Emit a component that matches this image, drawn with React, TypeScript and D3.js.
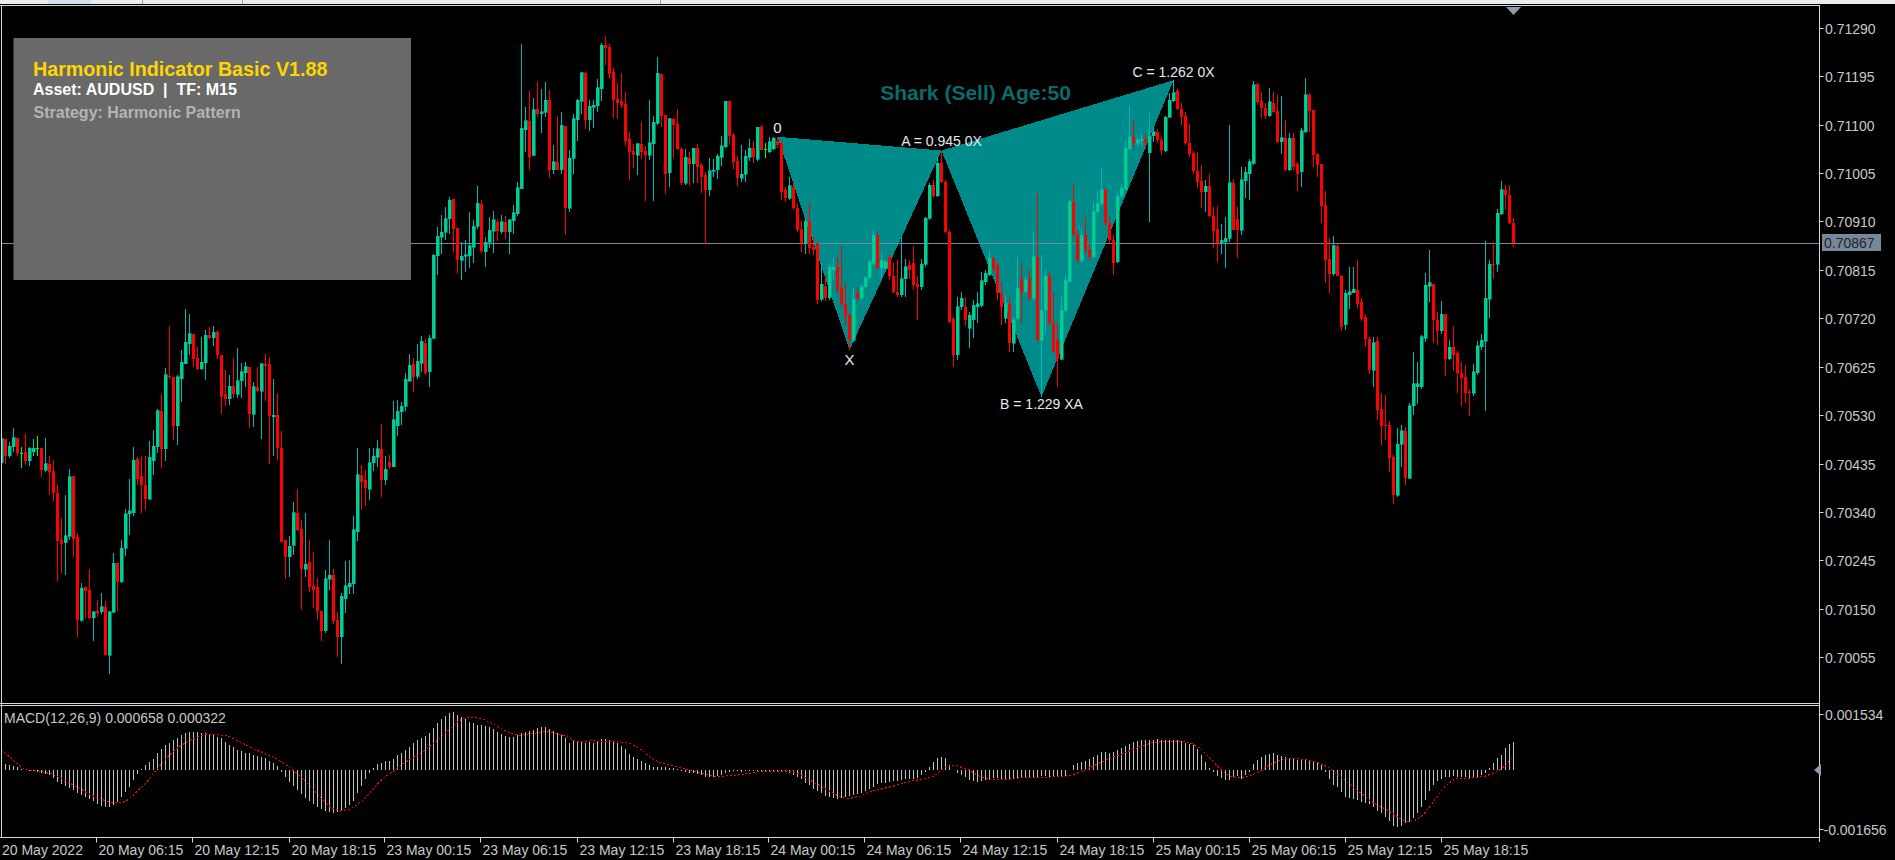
import React from "react";
import * as d3 from "d3";

const W = 1895;
const H = 860;
const FONT = "'Liberation Sans', Arial, sans-serif";

// [open, high, low, close] per M15 bar, AUDUSD, 20 May 00:15 .. 25 May
const ohlc: [number, number, number, number][] = [
[0.70437,0.70484,0.70437,0.70484],[0.70483,0.70483,0.70435,0.70449],[0.70450,0.70478,0.70445,0.70469],[0.70468,0.70505,0.70458,0.70486],[0.70486,0.70486,0.70449,0.70455],
[0.70455,0.70468,0.70427,0.70455],[0.70457,0.70493,0.70432,0.70441],[0.70441,0.70468,0.70430,0.70465],[0.70458,0.70484,0.70449,0.70465],[0.70465,0.70489,0.70449,0.70465],
[0.70466,0.70466,0.70409,0.70422],[0.70422,0.70486,0.70419,0.70435],[0.70435,0.70450,0.70373,0.70419],[0.70420,0.70442,0.70362,0.70378],[0.70378,0.70393,0.70205,0.70284],
[0.70285,0.70328,0.70220,0.70277],[0.70280,0.70373,0.70216,0.70293],[0.70292,0.70424,0.70286,0.70409],[0.70411,0.70411,0.70252,0.70288],[0.70290,0.70298,0.70095,0.70128],
[0.70128,0.70200,0.70125,0.70190],[0.70193,0.70193,0.70131,0.70185],[0.70187,0.70229,0.70131,0.70133],[0.70133,0.70146,0.70086,0.70144],[0.70146,0.70167,0.70135,0.70141],
[0.70144,0.70182,0.70140,0.70154],[0.70154,0.70165,0.70059,0.70059],[0.70059,0.70146,0.70023,0.70144],[0.70143,0.70260,0.70141,0.70239],[0.70239,0.70239,0.70146,0.70203],
[0.70203,0.70285,0.70201,0.70269],[0.70269,0.70345,0.70254,0.70337],[0.70337,0.70405,0.70295,0.70342],[0.70339,0.70467,0.70332,0.70442],[0.70444,0.70447,0.70393,0.70405],
[0.70411,0.70449,0.70339,0.70393],[0.70393,0.70449,0.70343,0.70365],[0.70365,0.70479,0.70365,0.70447],[0.70441,0.70501,0.70413,0.70469],[0.70468,0.70542,0.70455,0.70539],
[0.70539,0.70571,0.70427,0.70464],[0.70464,0.70623,0.70441,0.70609],[0.70607,0.70705,0.70600,0.70604],[0.70604,0.70604,0.70481,0.70509],[0.70509,0.70609,0.70471,0.70605],
[0.70601,0.70658,0.70556,0.70634],[0.70631,0.70738,0.70631,0.70673],[0.70670,0.70728,0.70648,0.70690],[0.70690,0.70690,0.70625,0.70640],[0.70643,0.70664,0.70619,0.70621],
[0.70621,0.70683,0.70619,0.70634],[0.70633,0.70697,0.70599,0.70687],[0.70687,0.70702,0.70679,0.70682],[0.70682,0.70704,0.70666,0.70693],[0.70693,0.70698,0.70641,0.70647],
[0.70648,0.70648,0.70532,0.70566],[0.70571,0.70619,0.70548,0.70562],[0.70562,0.70609,0.70550,0.70587],[0.70587,0.70643,0.70563,0.70571],[0.70571,0.70662,0.70563,0.70597],
[0.70597,0.70632,0.70564,0.70615],[0.70613,0.70634,0.70586,0.70625],[0.70625,0.70625,0.70504,0.70532],[0.70532,0.70595,0.70507,0.70586],[0.70586,0.70625,0.70576,0.70577],
[0.70577,0.70632,0.70484,0.70631],[0.70631,0.70650,0.70558,0.70626],[0.70630,0.70645,0.70435,0.70529],[0.70527,0.70600,0.70450,0.70530],[0.70530,0.70573,0.70442,0.70466],
[0.70466,0.70498,0.70282,0.70282],[0.70285,0.70285,0.70208,0.70252],[0.70252,0.70293,0.70213,0.70273],[0.70275,0.70360,0.70256,0.70339],[0.70339,0.70385,0.70303,0.70305],
[0.70307,0.70324,0.70148,0.70228],[0.70228,0.70339,0.70213,0.70238],[0.70241,0.70285,0.70184,0.70193],[0.70195,0.70262,0.70151,0.70187],[0.70192,0.70210,0.70128,0.70146],
[0.70146,0.70146,0.70086,0.70107],[0.70107,0.70226,0.70103,0.70209],[0.70208,0.70285,0.70187,0.70216],[0.70216,0.70229,0.70120,0.70127],[0.70129,0.70144,0.70055,0.70094],
[0.70095,0.70182,0.70042,0.70175],[0.70170,0.70244,0.70141,0.70195],[0.70193,0.70246,0.70180,0.70200],[0.70199,0.70332,0.70180,0.70305],[0.70301,0.70465,0.70283,0.70413],
[0.70413,0.70432,0.70343,0.70399],[0.70403,0.70422,0.70352,0.70388],[0.70385,0.70466,0.70364,0.70437],[0.70437,0.70466,0.70420,0.70449],[0.70447,0.70481,0.70429,0.70464],
[0.70464,0.70513,0.70370,0.70403],[0.70403,0.70450,0.70392,0.70424],[0.70439,0.70452,0.70424,0.70429],[0.70429,0.70558,0.70428,0.70521],[0.70509,0.70560,0.70489,0.70538],
[0.70537,0.70556,0.70511,0.70547],[0.70547,0.70612,0.70539,0.70600],[0.70596,0.70650,0.70596,0.70628],[0.70630,0.70643,0.70576,0.70604],[0.70606,0.70670,0.70600,0.70636],
[0.70632,0.70685,0.70615,0.70675],[0.70671,0.70680,0.70609,0.70612],[0.70615,0.70687,0.70586,0.70681],[0.70681,0.70847,0.70679,0.70844],[0.70843,0.70900,0.70804,0.70881],
[0.70879,0.70923,0.70847,0.70889],[0.70889,0.70938,0.70874,0.70915],[0.70915,0.70957,0.70885,0.70952],[0.70954,0.70954,0.70851,0.70895],[0.70897,0.70897,0.70808,0.70834],
[0.70834,0.70869,0.70795,0.70842],[0.70842,0.70874,0.70811,0.70845],[0.70843,0.70928,0.70818,0.70862],[0.70859,0.70913,0.70828,0.70901],[0.70901,0.70980,0.70895,0.70946],
[0.70944,0.70952,0.70849,0.70852],[0.70851,0.70879,0.70821,0.70869],[0.70869,0.70919,0.70857,0.70893],[0.70891,0.70930,0.70849,0.70913],[0.70909,0.70915,0.70872,0.70891],
[0.70890,0.70923,0.70885,0.70909],[0.70909,0.70921,0.70875,0.70890],[0.70890,0.70913,0.70847,0.70913],[0.70911,0.70942,0.70885,0.70927],[0.70925,0.70987,0.70921,0.70976],
[0.70974,0.71258,0.70974,0.71093],[0.71090,0.71134,0.71047,0.71107],[0.71107,0.71165,0.71011,0.71036],[0.71040,0.71152,0.71038,0.71129],[0.71131,0.71184,0.71114,0.71121],
[0.71121,0.71170,0.71084,0.71125],[0.71124,0.71184,0.71114,0.71148],[0.71148,0.71168,0.70996,0.71011],[0.71011,0.71060,0.71003,0.71027],[0.71027,0.71117,0.71011,0.71011],
[0.71011,0.71124,0.71003,0.71099],[0.71097,0.71097,0.70883,0.70936],[0.70936,0.71050,0.70929,0.71034],[0.71034,0.71121,0.71003,0.71111],[0.71109,0.71150,0.71068,0.71148],
[0.71146,0.71204,0.71121,0.71202],[0.71202,0.71204,0.71091,0.71109],[0.71109,0.71148,0.71087,0.71136],[0.71134,0.71148,0.71094,0.71138],[0.71137,0.71189,0.71125,0.71172],
[0.71170,0.71260,0.71146,0.71256],[0.71256,0.71274,0.71217,0.71250],[0.71252,0.71258,0.71189,0.71199],[0.71203,0.71211,0.71113,0.71148],[0.71150,0.71182,0.71111,0.71142],
[0.71146,0.71201,0.71133,0.71138],[0.71140,0.71164,0.71058,0.71068],[0.71072,0.71085,0.70991,0.71046],[0.71048,0.71062,0.71015,0.71040],[0.71040,0.71064,0.71001,0.71062],
[0.71062,0.71105,0.71032,0.71047],[0.71048,0.71058,0.70950,0.71040],[0.71040,0.71148,0.71031,0.71064],[0.71062,0.71117,0.70950,0.71105],[0.71103,0.71233,0.71099,0.71201],
[0.71199,0.71199,0.71095,0.71117],[0.71119,0.71119,0.70964,0.71003],[0.71005,0.71113,0.70978,0.71111],[0.71111,0.71113,0.71034,0.71099],[0.71101,0.71131,0.71050,0.71052],
[0.71052,0.71054,0.70981,0.70985],[0.70985,0.71052,0.70981,0.71036],[0.71034,0.71046,0.70980,0.71023],[0.71023,0.71054,0.70985,0.71054],[0.71054,0.71062,0.70985,0.71017],
[0.71021,0.71025,0.70966,0.70997],[0.71001,0.71007,0.70866,0.70972],[0.70972,0.71034,0.70960,0.71009],[0.71008,0.71032,0.70998,0.71010],[0.71011,0.71042,0.70993,0.71038],
[0.71036,0.71078,0.71019,0.71058],[0.71056,0.71146,0.71054,0.71146],[0.71146,0.71146,0.71060,0.71078],[0.71080,0.71083,0.71013,0.71027],[0.71029,0.71038,0.70980,0.70995],
[0.70995,0.71060,0.70987,0.71003],[0.71003,0.71050,0.70987,0.71038],[0.71036,0.71072,0.71029,0.71054],[0.71054,0.71068,0.71025,0.71036],[0.71032,0.71095,0.71029,0.71095],
[0.71095,0.71100,0.71050,0.71051],[0.71053,0.71063,0.71034,0.71053],[0.71047,0.71076,0.71044,0.71066],[0.71053,0.71076,0.71050,0.71073],[0.71068,0.71076,0.71055,0.71060],
[0.71063,0.71066,0.70952,0.70968],[0.70972,0.70978,0.70949,0.70955],[0.70955,0.70998,0.70952,0.70980],[0.70978,0.70988,0.70932,0.70936],[0.70936,0.70946,0.70890,0.70893],
[0.70895,0.70910,0.70851,0.70867],[0.70867,0.70919,0.70847,0.70910],[0.70910,0.70946,0.70846,0.70857],[0.70859,0.70877,0.70844,0.70854],[0.70867,0.70867,0.70749,0.70756],
[0.70757,0.70828,0.70753,0.70787],[0.70783,0.70805,0.70753,0.70759],[0.70760,0.70828,0.70756,0.70820],[0.70815,0.70841,0.70798,0.70820],[0.70820,0.70841,0.70769,0.70776],
[0.70779,0.70862,0.70743,0.70749],[0.70749,0.70789,0.70704,0.70723],[0.70726,0.70730,0.70658,0.70677],[0.70677,0.70782,0.70674,0.70756],[0.70769,0.70782,0.70753,0.70759],
[0.70759,0.70788,0.70756,0.70782],[0.70782,0.70802,0.70779,0.70800],[0.70800,0.70834,0.70798,0.70831],[0.70828,0.70893,0.70824,0.70883],[0.70883,0.70890,0.70815,0.70818],
[0.70818,0.70851,0.70798,0.70834],[0.70818,0.70834,0.70816,0.70831],[0.70841,0.70844,0.70795,0.70802],[0.70802,0.70828,0.70769,0.70772],[0.70772,0.70834,0.70762,0.70766],
[0.70766,0.70879,0.70762,0.70798],[0.70798,0.70836,0.70762,0.70821],[0.70824,0.70834,0.70798,0.70815],[0.70828,0.70862,0.70776,0.70785],[0.70788,0.70802,0.70717,0.70782],
[0.70782,0.70837,0.70776,0.70826],[0.70826,0.70919,0.70821,0.70916],[0.70916,0.70985,0.70913,0.70981],[0.70981,0.70991,0.70956,0.70960],[0.70960,0.71037,0.70957,0.71024],
[0.71024,0.71049,0.70985,0.70988],[0.70988,0.70991,0.70887,0.70890],[0.70890,0.70893,0.70710,0.70713],[0.70719,0.70723,0.70625,0.70648],[0.70648,0.70762,0.70638,0.70743],
[0.70743,0.70772,0.70736,0.70759],[0.70743,0.70762,0.70704,0.70717],[0.70700,0.70733,0.70661,0.70726],[0.70717,0.70756,0.70681,0.70746],[0.70743,0.70772,0.70710,0.70749],
[0.70746,0.70811,0.70743,0.70794],[0.70792,0.70815,0.70785,0.70808],[0.70805,0.70854,0.70802,0.70838],[0.70838,0.70841,0.70808,0.70816],[0.70824,0.70828,0.70756,0.70769],
[0.70769,0.70792,0.70707,0.70743],[0.70720,0.70766,0.70710,0.70749],[0.70749,0.70762,0.70654,0.70671],[0.70671,0.70723,0.70654,0.70717],[0.70720,0.70841,0.70717,0.70779],
[0.70798,0.70828,0.70710,0.70769],[0.70772,0.70802,0.70769,0.70796],[0.70798,0.70815,0.70753,0.70759],[0.70759,0.70887,0.70753,0.70841],[0.70841,0.70965,0.70674,0.70677],
[0.70677,0.70844,0.70566,0.70736],[0.70736,0.70815,0.70694,0.70802],[0.70802,0.70811,0.70704,0.70710],[0.70710,0.70769,0.70651,0.70654],[0.70677,0.70710,0.70586,0.70640],
[0.70640,0.70762,0.70638,0.70736],[0.70736,0.70805,0.70733,0.70795],[0.70792,0.70952,0.70789,0.70949],[0.70949,0.70983,0.70880,0.70883],[0.70883,0.70893,0.70828,0.70834],
[0.70834,0.70896,0.70828,0.70883],[0.70883,0.70919,0.70847,0.70854],[0.70854,0.70867,0.70834,0.70841],[0.70841,0.70949,0.70838,0.70929],[0.70929,0.70972,0.70926,0.70946],
[0.70946,0.71017,0.70942,0.70972],[0.70972,0.70978,0.70899,0.70906],[0.70907,0.70919,0.70867,0.70874],[0.70874,0.70883,0.70805,0.70828],[0.70831,0.70965,0.70828,0.70959],
[0.70959,0.70985,0.70955,0.70975],[0.70973,0.71069,0.70972,0.71053],[0.71053,0.71136,0.71051,0.71076],[0.71076,0.71109,0.71055,0.71063],[0.71063,0.71075,0.71058,0.71070],
[0.71069,0.71084,0.71057,0.71070],[0.71072,0.71080,0.71053,0.71063],[0.71045,0.71122,0.70908,0.71078],[0.71078,0.71096,0.71066,0.71086],[0.71086,0.71092,0.71064,0.71070],
[0.71070,0.71076,0.71040,0.71050],[0.71049,0.71117,0.71047,0.71114],[0.71114,0.71161,0.71112,0.71148],[0.71147,0.71187,0.71145,0.71162],[0.71166,0.71169,0.71128,0.71130],
[0.71130,0.71142,0.71099,0.71114],[0.71117,0.71125,0.71060,0.71063],[0.71063,0.71102,0.71037,0.71042],[0.71044,0.71049,0.71004,0.71008],[0.71008,0.71047,0.70975,0.70988],
[0.70990,0.71021,0.70936,0.70968],[0.70968,0.70991,0.70929,0.70979],[0.70979,0.71003,0.70919,0.70920],[0.70920,0.70939,0.70857,0.70892],[0.70896,0.70940,0.70831,0.70868],
[0.70868,0.70905,0.70847,0.70873],[0.70870,0.70918,0.70818,0.70877],[0.70877,0.71099,0.70870,0.70986],[0.70986,0.70994,0.70893,0.70894],[0.70914,0.70939,0.70839,0.70893],
[0.70893,0.71016,0.70883,0.70992],[0.70990,0.71016,0.70955,0.71006],[0.71004,0.71032,0.70953,0.71027],[0.71024,0.71186,0.71021,0.71178],[0.71180,0.71182,0.71138,0.71145],
[0.71147,0.71164,0.71112,0.71132],[0.71132,0.71142,0.71110,0.71117],[0.71117,0.71171,0.71114,0.71145],[0.71143,0.71164,0.71123,0.71125],[0.71127,0.71158,0.71064,0.71066],
[0.71066,0.71156,0.71043,0.71074],[0.71073,0.71108,0.71008,0.71011],[0.71011,0.71083,0.71008,0.71073],[0.71073,0.71083,0.71011,0.71017],[0.71022,0.71027,0.70970,0.71004],
[0.71007,0.71094,0.70977,0.71088],[0.71086,0.71191,0.71083,0.71158],[0.71158,0.71161,0.71086,0.71127],[0.71128,0.71128,0.71017,0.71040],[0.71042,0.71042,0.70998,0.71021],
[0.71023,0.71023,0.70906,0.70941],[0.70942,0.70970,0.70790,0.70834],[0.70836,0.70877,0.70769,0.70807],[0.70807,0.70881,0.70803,0.70862],[0.70862,0.70865,0.70802,0.70802],
[0.70802,0.70805,0.70696,0.70703],[0.70707,0.70775,0.70698,0.70769],[0.70766,0.70821,0.70739,0.70772],[0.70770,0.70821,0.70769,0.70777],[0.70775,0.70835,0.70741,0.70749],
[0.70752,0.70759,0.70715,0.70718],[0.70722,0.70728,0.70664,0.70679],[0.70679,0.70683,0.70611,0.70618],[0.70618,0.70684,0.70586,0.70672],[0.70676,0.70684,0.70520,0.70541],
[0.70543,0.70573,0.70471,0.70509],[0.70510,0.70569,0.70481,0.70509],[0.70510,0.70519,0.70419,0.70445],[0.70448,0.70452,0.70356,0.70373],[0.70373,0.70504,0.70370,0.70473],
[0.70473,0.70510,0.70429,0.70499],[0.70499,0.70507,0.70393,0.70406],[0.70406,0.70553,0.70404,0.70548],[0.70548,0.70654,0.70530,0.70592],[0.70586,0.70635,0.70552,0.70592],
[0.70586,0.70687,0.70582,0.70684],[0.70681,0.70808,0.70674,0.70785],[0.70783,0.70854,0.70752,0.70790],[0.70787,0.70787,0.70671,0.70717],[0.70717,0.70733,0.70667,0.70696],
[0.70696,0.70754,0.70689,0.70728],[0.70728,0.70728,0.70607,0.70641],[0.70641,0.70677,0.70638,0.70663],[0.70663,0.70705,0.70617,0.70648],[0.70651,0.70656,0.70573,0.70612],
[0.70613,0.70635,0.70548,0.70602],[0.70605,0.70628,0.70553,0.70573],[0.70576,0.70582,0.70528,0.70573],[0.70573,0.70630,0.70567,0.70615],[0.70613,0.70676,0.70609,0.70666],
[0.70664,0.70689,0.70658,0.70677],[0.70675,0.70872,0.70539,0.70759],[0.70757,0.70834,0.70720,0.70826],[0.70826,0.70870,0.70798,0.70824],[0.70826,0.70934,0.70811,0.70926],
[0.70925,0.70990,0.70922,0.70972],[0.70972,0.70981,0.70932,0.70962],[0.70962,0.70981,0.70905,0.70907],[0.70907,0.70916,0.70859,0.70867],
];

// MACD(12,26,9) main values per bar, in millionths
const macdMainE6: number[] = [
120,120,96,72,40,8,-24,-40,-56,-72,
-104,-128,-153,-225,-305,-353,-410,-458,-514,-570,
-618,-675,-723,-779,-835,-883,-923,-907,-859,-795,
-666,-554,-426,-265,-120,-8,96,177,241,377,
474,570,634,699,747,811,859,883,883,883,
875,875,851,827,779,739,650,586,522,458,
426,393,377,345,321,289,257,201,137,72,
-72,-201,-305,-410,-506,-602,-707,-771,-851,-907,
-956,-1004,-1036,-1052,-1036,-1004,-948,-867,-763,-586,
-410,-249,-104,24,120,153,185,201,249,329,
393,450,538,634,699,739,795,859,980,1100,
1196,1277,1357,1373,1301,1261,1196,1140,1100,1068,
1052,1036,1020,972,899,843,795,779,779,819,
859,891,923,940,988,1012,1004,972,923,859,
811,755,618,683,683,658,634,658,618,666,
715,715,699,683,634,554,474,361,297,241,
185,137,88,40,56,56,40,32,16,-8,
-40,-64,-88,-104,-120,-153,-185,-201,-201,-169,
-145,-104,-72,-40,-56,-64,-48,-40,-40,-48,
-56,-56,-56,-48,-40,-40,-72,-104,-153,-201,
-249,-329,-393,-474,-522,-570,-650,-666,-699,-731,
-699,-666,-650,-634,-602,-570,-522,-474,-426,-369,
-345,-329,-313,-297,-281,-265,-249,-249,-233,-217,
-145,-64,40,177,257,297,257,96,-24,-104,
-153,-201,-265,-297,-305,-281,-265,-241,-225,-225,
-233,-249,-241,-233,-225,-217,-209,-201,-193,-185,
-169,-177,-185,-201,-201,-201,-169,-24,96,137,
169,201,241,297,337,410,418,377,410,458,
498,554,602,658,683,699,699,699,699,715,
707,699,699,699,699,683,634,602,570,474,
337,177,16,-64,-169,-225,-265,-265,-185,-169,
-249,-145,-64,120,217,281,329,361,393,345,
313,297,257,233,217,217,217,217,201,153,
96,-64,-249,-385,-442,-546,-666,-707,-723,-747,
-787,-811,-843,-923,-1004,-1068,-1164,-1245,-1373,-1389,
-1373,-1309,-1269,-1188,-1068,-923,-747,-522,-385,-281,
-233,-201,-185,-169,-185,-193,-201,-217,-217,-185,
-137,-88,16,153,257,337,498,602,658,
];

// MACD signal line per bar, in millionths
const macdSignalE6: number[] = [
474,377,297,201,120,40,-8,-24,-32,-40,
-64,-88,-104,-137,-185,-233,-281,-329,-393,-442,
-490,-554,-602,-650,-691,-731,-763,-787,-811,-827,
-811,-779,-715,-626,-530,-442,-345,-233,-104,16,
120,233,337,426,506,570,634,683,731,771,
803,827,835,835,835,819,803,779,731,683,
634,586,538,490,442,410,361,329,281,233,
169,104,40,-40,-104,-201,-297,-393,-490,-618,
-715,-811,-891,-956,-988,-1004,-988,-972,-923,-851,
-779,-683,-586,-474,-361,-265,-185,-120,-56,24,
104,169,217,281,329,393,458,538,618,699,
779,875,956,1052,1132,1196,1229,1245,1245,1245,
1213,1180,1132,1084,1020,972,923,875,843,819,
819,835,851,859,875,891,899,891,875,859,
827,795,739,699,666,658,666,675,683,675,
666,658,658,658,658,650,642,618,578,522,
458,377,297,233,185,153,120,96,72,48,
24,0,-24,-48,-72,-96,-120,-153,-169,-169,
-169,-169,-161,-153,-145,-137,-120,-104,-88,-72,
-64,-56,-48,-48,-48,-48,-48,-56,-72,-104,
-153,-209,-265,-313,-369,-426,-482,-530,-586,-642,
-675,-699,-707,-691,-666,-642,-594,-554,-530,-506,
-482,-458,-434,-410,-385,-361,-329,-305,-281,-265,
-249,-225,-201,-185,-104,-24,40,72,80,72,
40,8,-24,-88,-153,-201,-225,-241,-249,-249,
-249,-249,-241,-233,-217,-209,-209,-201,-201,-201,
-201,-193,-193,-185,-185,-177,-169,-153,-128,-96,
-64,-16,24,72,120,169,209,249,297,329,
361,393,434,474,514,554,586,618,642,650,
658,666,675,675,675,666,658,634,594,538,
474,377,281,177,72,-24,-104,-169,-201,-209,
-201,-185,-169,-128,-80,-24,40,96,145,193,
233,257,265,265,257,241,233,217,185,153,
120,72,16,-40,-120,-201,-281,-361,-442,-522,
-586,-666,-747,-811,-867,-923,-972,-1020,-1084,-1148,
-1213,-1261,-1261,-1245,-1213,-1132,-1036,-923,-787,-650,
-522,-410,-329,-265,-233,-225,-225,-217,-201,-201,
-185,-169,-137,-104,-56,8,88,201,322,
];

const priceTicks = [0.7129, 0.71195, 0.711, 0.71005, 0.7091, 0.70815, 0.7072, 0.70625, 0.7053, 0.70435, 0.7034, 0.70245, 0.7015, 0.70055];
const priceDomain = [0.70055, 0.7129];
const macdDomain = [-0.001656, 0.001534];
const lastPrice = 0.70867;

const firstDateLabel = "20 May 2022";
const timeTickBars = [24, 48, 72, 96, 120, 144, 168, 192, 216, 240, 264, 288, 312, 336, 360];
const timeTickLabels = [
  "20 May 06:15", "20 May 12:15", "20 May 18:15", "23 May 00:15", "23 May 06:15",
  "23 May 12:15", "23 May 18:15", "24 May 00:15", "24 May 06:15", "24 May 12:15",
  "24 May 18:15", "25 May 00:15", "25 May 06:15", "25 May 12:15", "25 May 18:15",
];

// harmonic pattern pivots (bar indices)
const pivotBars = { O: 194, X: 212, A: 235, B: 260, C: 293 };
const pivotLabels = { O: "0", X: "X", A: "A = 0.945 0X", B: "B = 1.229 XA", C: "C = 1.262 0X" };
const patternTitle = "Shark (Sell) Age:50";

const panelTitle = "Harmonic Indicator Basic V1.88";
const panelAsset = "Asset: AUDUSD  |  TF: M15";
const panelStrategy = "Strategy: Harmonic Pattern";

const BULL_BODY = "#00d47c";
const BULL_WICK = "#00b8b8";
const BEAR = "#ff0000";
const AXIS_TXT = "#c8c8c8";
const FRAME = "#d8d8d8";

export default function App() {
  const n = ohlc.length;
  const x = d3.scaleLinear().domain([0, n - 1]).range([1.5, 1.5 + 4 * (n - 1)]);
  const y = d3.scaleLinear().domain(priceDomain).range([657.3, 27.7]);
  const ym = d3.scaleLinear().domain(macdDomain).range([837.7, 705.4]);

  const mainRight = 1819.5;
  const mainTop = 5.5;
  const mainBottom = 703.5;

  const pO = [x(pivotBars.O), y(ohlc[pivotBars.O][1])];
  const pX = [x(pivotBars.X), y(ohlc[pivotBars.X][2])];
  const pA = [x(pivotBars.A), y(ohlc[pivotBars.A][1])];
  const pB = [x(pivotBars.B), y(ohlc[pivotBars.B][2])];
  const pC = [x(pivotBars.C), y(ohlc[pivotBars.C][1])];

  const signalLine = d3
    .line<number>()
    .x((_, i) => x(i))
    .y((d) => ym(d * 1e-6))(macdSignalE6);

  const mainLast = macdMainE6[macdMainE6.length - 1] * 1e-6;
  const sigLast = macdSignalE6[macdSignalE6.length - 1] * 1e-6;
  const yLast = Math.round(y(lastPrice)) + 0.5;
  const y0m = Math.round(ym(0)) + 0.5;

  return (
    <svg
      width={W}
      height={H}
      style={{ position: "absolute", left: 0, top: 0, display: "block", background: "#000" }}
      fontFamily={FONT}
    >
      <rect x={0} y={0} width={W} height={H} fill="#000" />
      {/* top tab strip */}
      <rect x={0} y={0} width={W} height={4} fill="#ececec" />
      <rect x={48} y={0} width={43} height={4} fill="#d5e3f1" />
      {[142, 242, 660].map((v) => (
        <line key={v} x1={v + 0.5} x2={v + 0.5} y1={0} y2={4} stroke="#9a9a9a" />
      ))}

      <defs>
        <clipPath id="mainClip">
          <rect x={2} y={6} width={mainRight - 2} height={mainBottom - 6} />
        </clipPath>
        <clipPath id="macdClip">
          <rect x={2} y={707} width={mainRight - 2} height={130} />
        </clipPath>
      </defs>

      {/* harmonic pattern */}
      <g shapeRendering="crispEdges">
        <polygon points={[pO, pX, pA].map((p) => p.join(",")).join(" ")} fill="#008b8b" />
        <polygon points={[pA, pB, pC].map((p) => p.join(",")).join(" ")} fill="#008b8b" />
      </g>

      {/* bid line */}
      <line x1={2} x2={mainRight} y1={yLast} y2={yLast} stroke="#778899" />

      {/* candles */}
      <g clipPath="url(#mainClip)" shapeRendering="crispEdges">
        {ohlc.map(([o, h, l, c], i) => {
          const cx = x(i);
          const doji = o === c;
          const up = c > o;
          const wickCol = doji ? "#00ff00" : up ? BULL_WICK : BEAR;
          const top = y(Math.max(o, c));
          const bot = y(Math.min(o, c));
          return (
            <g key={i}>
              <line x1={cx} x2={cx} y1={y(Math.max(h, o, c))} y2={y(Math.min(l, o, c))} stroke={wickCol} />
              {doji ? (
                <line x1={cx - 1.5} x2={cx + 1.5} y1={Math.round(top) + 0.5} y2={Math.round(top) + 0.5} stroke={wickCol} />
              ) : (
                <g>
                  <rect x={cx - 1.5} y={top} width={3} height={Math.max(1, bot - top)} fill={up ? BULL_BODY : BEAR} />
                  {up && <rect x={cx - 1.5} y={top} width={3} height={Math.max(1, bot - top)} fill="none" stroke={BULL_WICK} strokeWidth={0.6} />}
                </g>
              )}
            </g>
          );
        })}
      </g>

      {/* pattern labels */}
      <g fill="#e8e8e8">
        <text x={pO[0]} y={pO[1] - 4} fontSize={15} textAnchor="middle">{pivotLabels.O}</text>
        <text x={pX[0]} y={pX[1] + 15} fontSize={15} textAnchor="middle">{pivotLabels.X}</text>
        <text x={pA[0]} y={pA[1] - 5} fontSize={14} textAnchor="middle">{pivotLabels.A}</text>
        <text x={pB[0]} y={pB[1] + 12.5} fontSize={14} textAnchor="middle">{pivotLabels.B}</text>
        <text x={pC[0]} y={pC[1] - 3.5} fontSize={14} textAnchor="middle">{pivotLabels.C}</text>
      </g>
      <text x={(pO[0] + pC[0]) / 2} y={100} fontSize={21} fontWeight="bold" fill="#0c6a6a" textAnchor="middle">
        {patternTitle}
      </text>

      {/* info panel */}
      <rect x={13.5} y={38} width={397.5} height={242} fill="#696969" />
      <text x={33} y={76} fontSize={19.7} fontWeight="bold" fill="#ffd700">{panelTitle}</text>
      <text x={33} y={95} fontSize={16} fontWeight="bold" fill="#ffffff" style={{ whiteSpace: "pre" }}>{panelAsset}</text>
      <text x={33.5} y={118.3} fontSize={16} fontWeight="bold" fill="#b4b4b4">{panelStrategy}</text>

      {/* frames */}
      <g stroke={FRAME} fill="none" shapeRendering="crispEdges">
        <line x1={0} x2={mainRight} y1={mainTop} y2={mainTop} />
        <line x1={1.5} x2={1.5} y1={mainTop} y2={837.5} />
        <line x1={mainRight} x2={mainRight} y1={mainTop} y2={842} />
        <line x1={0} x2={mainRight} y1={703.5} y2={703.5} />
        <line x1={0} x2={mainRight} y1={705.5} y2={705.5} />
        <line x1={0} x2={mainRight} y1={837.5} y2={837.5} />
      </g>

      {/* price axis */}
      <g fill={AXIS_TXT} fontSize={14}>
        {priceTicks.map((p) => {
          const yy = Math.round(y(p)) + 0.5;
          return (
            <g key={p}>
              <line x1={mainRight} x2={mainRight + 4} y1={yy} y2={yy} stroke={FRAME} />
              <text x={mainRight + 5.5} y={yy + 5}>{p.toFixed(5)}</text>
            </g>
          );
        })}
      </g>
      <rect x={1822} y={234} width={59} height={17} fill="#778899" />
      <text x={1824} y={247.5} fontSize={14} fill="#1e2530">{lastPrice.toFixed(5)}</text>

      {/* chart shift marker */}
      <polygon points="1506,7 1521,7 1513.5,15" fill="#8d9cae" />

      {/* MACD */}
      <g clipPath="url(#macdClip)" shapeRendering="crispEdges">
        {macdMainE6.map((v, i) => (
          <line key={i} x1={x(i)} x2={x(i)} y1={y0m} y2={ym(v * 1e-6)} stroke="#c0c0c0" />
        ))}
        <path d={signalLine || ""} fill="none" stroke="#ff0000" strokeDasharray="2,2" />
      </g>
      <text x={4} y={723} fontSize={14} fill={AXIS_TXT}>
        {`MACD(12,26,9) ${mainLast.toFixed(6)} ${sigLast.toFixed(6)}`}
      </text>
      <g fill={AXIS_TXT} fontSize={14}>
        <line x1={mainRight} x2={mainRight + 4} y1={714.5} y2={714.5} stroke={FRAME} />
        <text x={mainRight + 5.5} y={719.5}>{macdDomain[1].toFixed(6)}</text>
        <line x1={mainRight} x2={mainRight + 4} y1={829.5} y2={829.5} stroke={FRAME} />
        <text x={mainRight + 4} y={834.5}>{macdDomain[0].toFixed(6)}</text>
      </g>
      <polygon points="1821,764 1821,776 1814,770" fill="#8d9cae" />

      {/* time axis */}
      <g fill={AXIS_TXT} fontSize={14}>
        <text x={2} y={855}>{firstDateLabel}</text>
        {timeTickBars.map((b, i) => {
          const xx = Math.round(x(b)) - 0.5;
          return (
            <g key={b}>
              <line x1={xx} x2={xx} y1={837.5} y2={842.5} stroke={FRAME} />
              <text x={xx + 2} y={855}>{timeTickLabels[i]}</text>
            </g>
          );
        })}
      </g>
    </svg>
  );
}
